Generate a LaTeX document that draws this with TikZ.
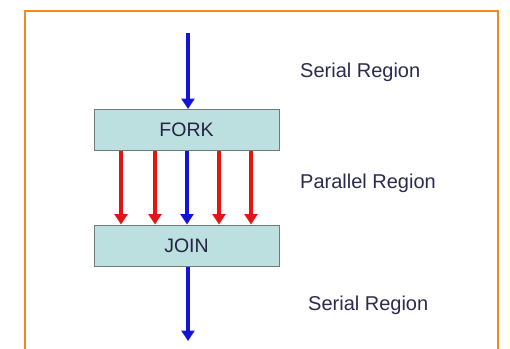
\documentclass[tikz,border=0pt]{standalone}
\usepackage{fontspec}
\setmainfont{Liberation Sans}
\usetikzlibrary{arrows.meta}
\definecolor{frameorange}{HTML}{F0891E}
\definecolor{boxfill}{HTML}{BCDFE0}
\definecolor{boxline}{HTML}{6E7B7B}
\definecolor{txtnavy}{HTML}{2B2B4F}
\definecolor{arrblue}{HTML}{1414D8}
\definecolor{arrred}{HTML}{E51414}
\tikzset{
  stagebox/.style={draw=boxline, line width=1pt, fill=boxfill, minimum width=185pt, minimum height=41pt, inner sep=0pt, font=\fontsize{19.5}{21}\selectfont, text=txtnavy!85!black},
  regionlabel/.style={anchor=west, inner sep=0pt, font=\fontsize{20}{22}\selectfont, text=txtnavy},
  flow/.style={line width=3.5pt, -{Triangle[width=13pt,length=10.5pt]}},
  blueflow/.style={flow, draw=arrblue, fill=arrblue},
  redflow/.style={flow, draw=arrred, fill=arrred}
}
\begin{document}
\begin{tikzpicture}[x=1pt,y=-1pt]
\useasboundingbox (0,0) rectangle (510,348);
\fill[white] (0,0) rectangle (510,348);
\draw[frameorange, line width=2pt] (25,350) -- (25,11) -- (498,11) -- (498,350);
\node[stagebox] (fork) at (186.5,130) {FORK};
\node[stagebox] (join) at (186.5,245.5) {JOIN};
\coordinate (start) at (188,33);
\coordinate (finish) at (188,341);
\draw[blueflow] (start) -- (start |- fork.north);
\foreach \xx in {121,155,219,251}{
  \draw[redflow] (fork.south -| \xx,0) -- (join.north -| \xx,0);
}
\draw[blueflow] (fork.south -| 187,0) -- (join.north -| 187,0);
\draw[blueflow] (join.south -| finish) -- (finish);
\node[regionlabel] (serial1) at (300,72) {Serial Region};
\node[regionlabel] (parallel) at (300,183) {Parallel Region};
\node[regionlabel] (serial2) at (308,305) {Serial Region};
\end{tikzpicture}
\end{document}
